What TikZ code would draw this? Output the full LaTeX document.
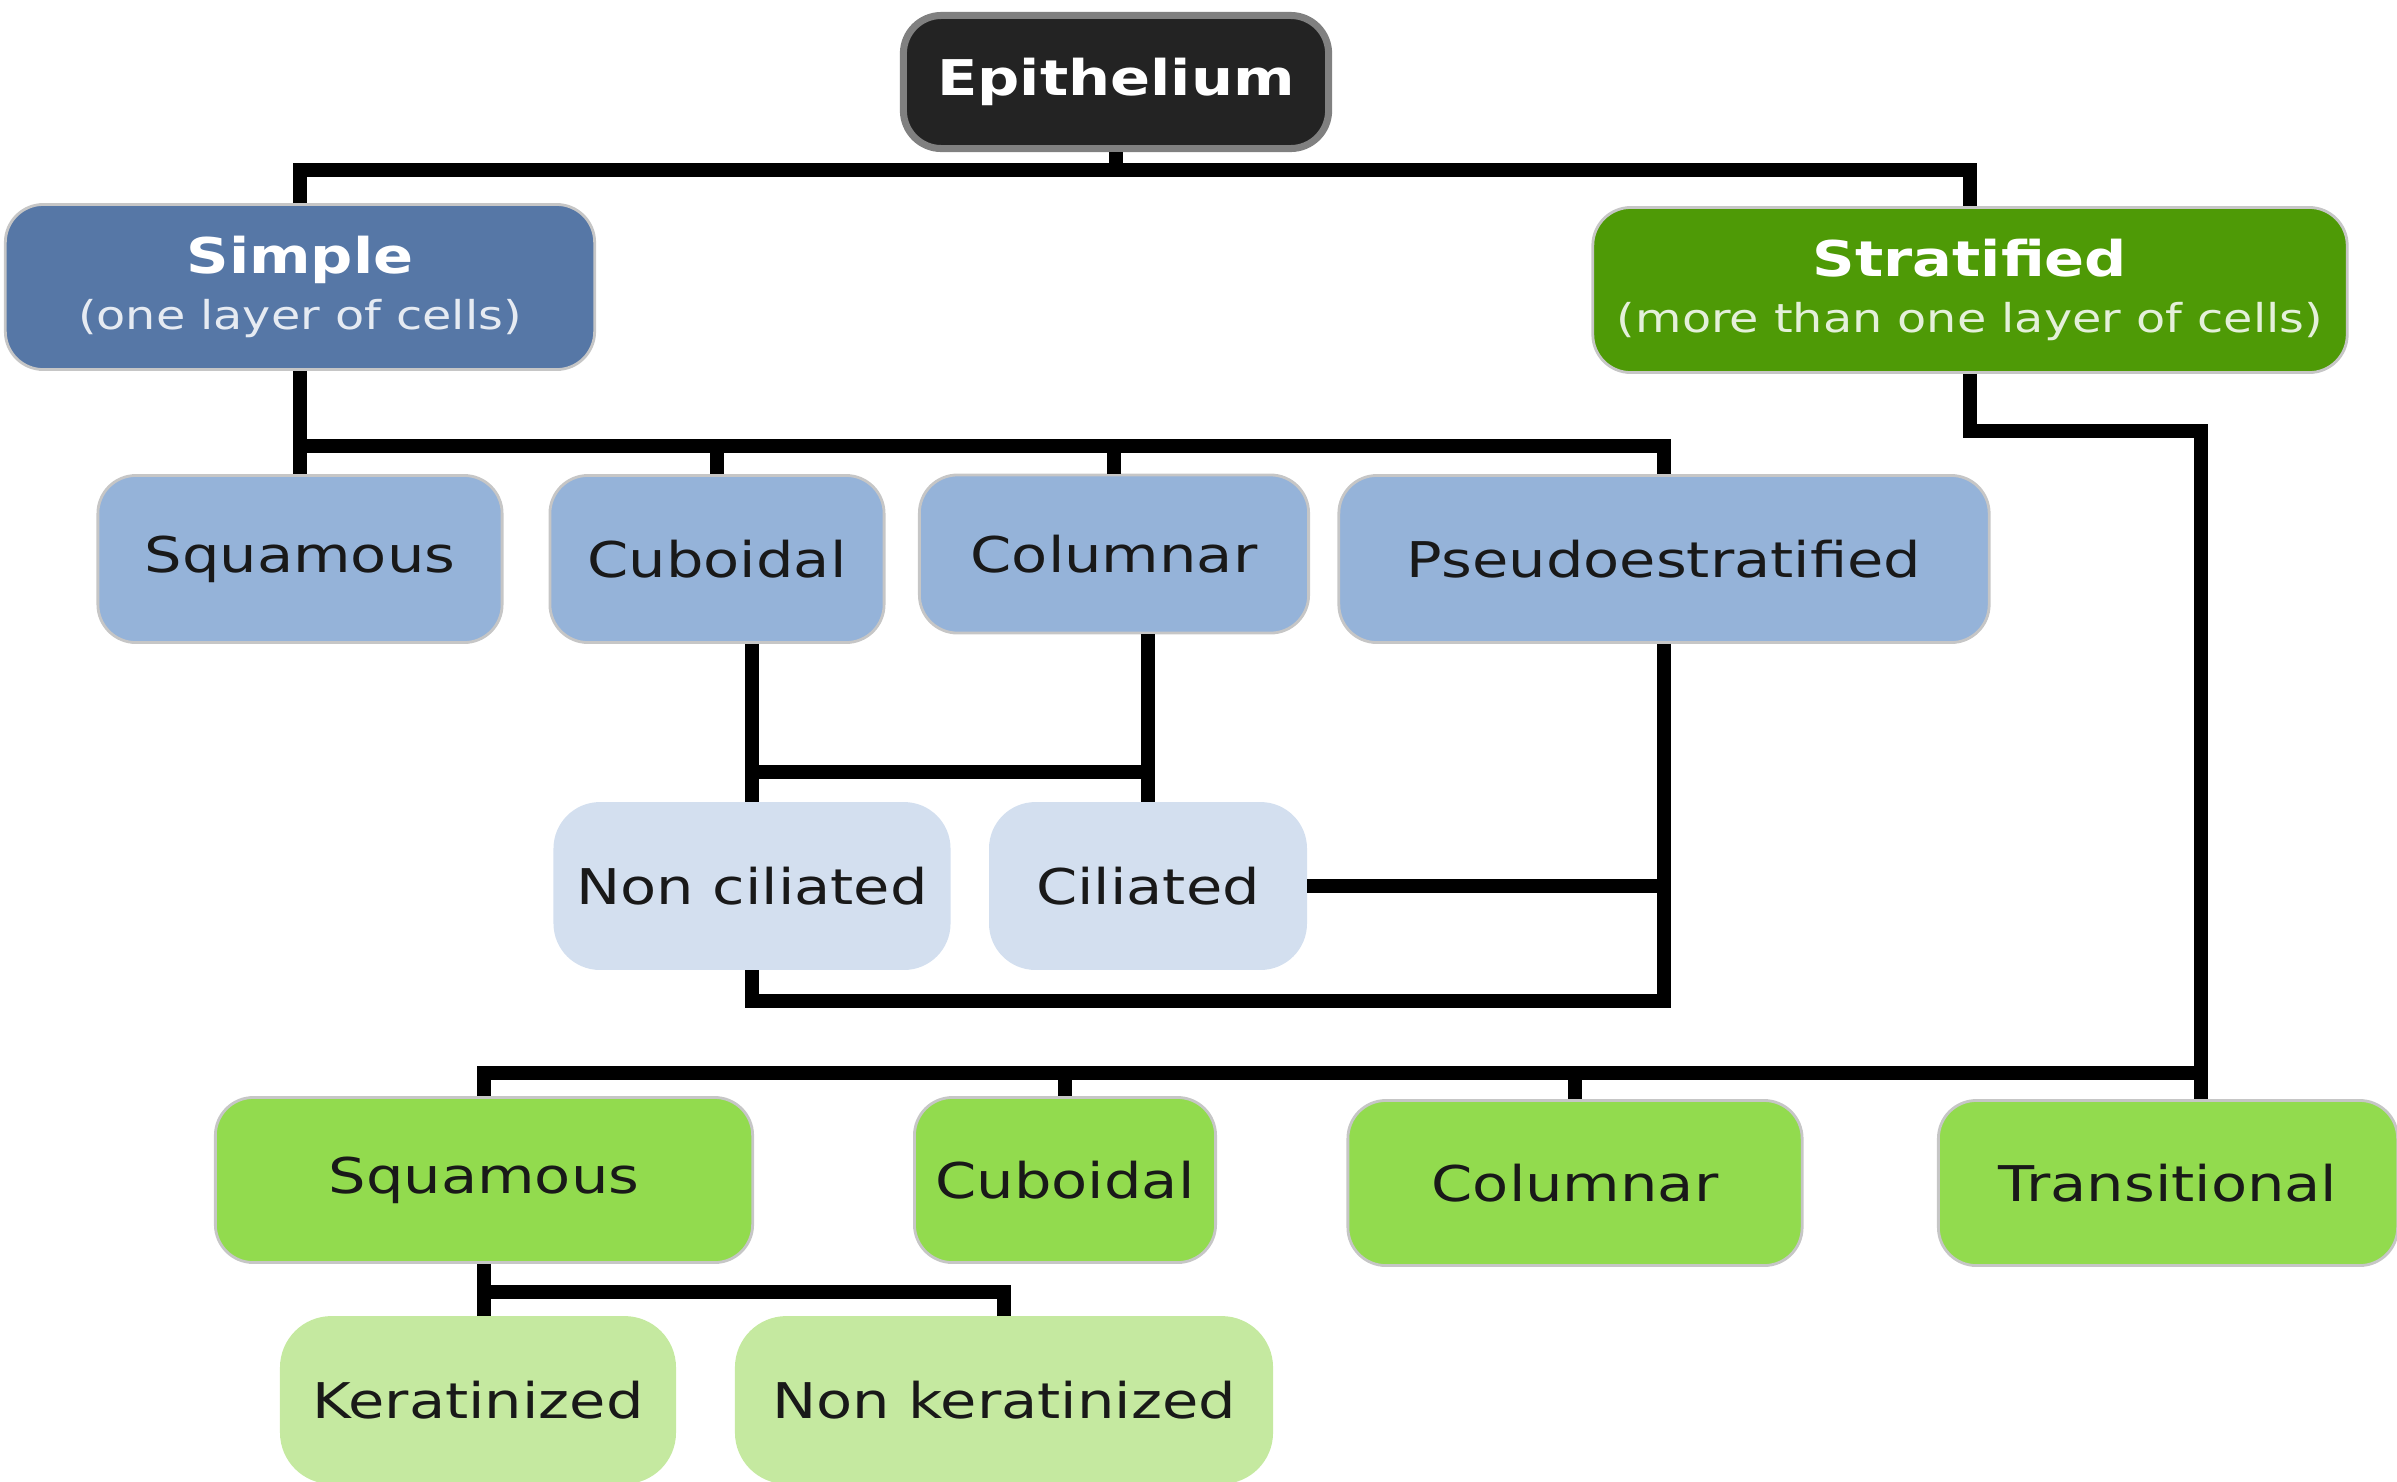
\documentclass[tikz,border=0pt]{standalone}
\usepackage{fontspec}
\setmainfont{DejaVu Sans}[FakeStretch=1.2]
\usepackage{tikz}
\usetikzlibrary{calc}

\definecolor{EpiBlack}{HTML}{232323}
\definecolor{SimpleBlue}{HTML}{5677A6}
\definecolor{CellBlue}{HTML}{95B3D9}
\definecolor{PaleBlue}{HTML}{D3DFEF}
\definecolor{StratGreen}{HTML}{4E9A06}
\definecolor{CellGreen}{HTML}{92DB4E}
\definecolor{PaleGreen}{HTML}{C5E9A0}

\begin{document}
\begin{tikzpicture}[x=0.01cm, y=-0.01cm,
        box/.style={rounded corners=0.38cm, draw=gray!45, line width=0.8pt, text=black!90,
            font=\fontsize{14}{17}\selectfont, inner sep=0pt, align=center},
        link/.style={line width=3.8pt, black}]
        \useasboundingbox (0,0) rectangle (2397,1481);
        \clip (0,0) rectangle (2397,1481);

        % top level
        \node[box, fill=EpiBlack, draw=gray, line width=2pt, text=white, minimum width=4.25cm, minimum height=1.33cm] (epi) at (1116,82) {\bfseries Epithelium};

        \node[box, fill=SimpleBlue, text=white, minimum width=5.89cm, minimum height=1.65cm] (simple) at (300,287)
            {{\bfseries Simple}\\[-1pt]{\fontsize{11.3}{13}\selectfont\color{white!85!SimpleBlue}(one layer of cells)}};
        \node[box, fill=StratGreen, text=white, minimum width=7.54cm, minimum height=1.65cm] (strat) at (1970,290)
            {{\bfseries Stratified}\\[-1pt]{\fontsize{11.3}{13}\selectfont\color{white!85!StratGreen}(more than one layer of cells)}};

        % simple
        \node[box, fill=CellBlue, minimum width=4.04cm, minimum height=1.67cm] (sq1) at (300,559) {Squamous};
        \node[box, fill=CellBlue, minimum width=3.34cm, minimum height=1.67cm] (cu1) at (717,559) {Cuboidal};
        \node[box, fill=CellBlue, minimum width=3.89cm, minimum height=1.58cm] (co1) at (1114,554) {Columnar};
        \node[box, fill=CellBlue, minimum width=6.50cm, minimum height=1.67cm] (ps1) at (1664,559) {Pseudoestratified};

        \node[box, fill=PaleBlue, draw=PaleBlue, rounded corners=0.45cm, minimum width=3.94cm, minimum height=1.65cm] (nc) at (752,886) {Non ciliated};
        \node[box, fill=PaleBlue, draw=PaleBlue, rounded corners=0.45cm, minimum width=3.15cm, minimum height=1.65cm] (ci) at (1148,886) {Ciliated};

        % stratified
        \node[box, fill=CellGreen, minimum width=5.37cm, minimum height=1.65cm] (sq2) at (484,1180) {Squamous};
        \node[box, fill=CellGreen, minimum width=3.01cm, minimum height=1.65cm] (cu2) at (1065,1180) {Cuboidal};
        \node[box, fill=CellGreen, minimum width=4.54cm, minimum height=1.65cm] (co2) at (1575,1183) {Columnar};
        \node[box, fill=CellGreen, minimum width=4.59cm, minimum height=1.65cm] (tr) at (2168,1183) {Transitional};

        \node[box, fill=PaleGreen, draw=PaleGreen, rounded corners=0.5cm, minimum width=3.93cm, minimum height=1.65cm] (ke) at (478,1400) {Keratinized};
        \node[box, fill=PaleGreen, draw=PaleGreen, rounded corners=0.5cm, minimum width=5.35cm, minimum height=1.65cm] (nk) at (1004,1400) {Non keratinized};

        \coordinate (b1) at (0,170);
        \coordinate (b2) at (0,446);
        \coordinate (m1) at (0,772);
        \coordinate (m2) at (0,1001);
        \coordinate (m3) at (2201,431);
        \coordinate (b3) at (0,1073);
        \coordinate (m4) at (0,1292);

        \draw[link] (epi.south) -- (epi.south |- b1);
        \draw[link] (simple.north) |- (b1 -| epi.south) -| (strat.north);

        \draw[link] (simple.south) -- (sq1.north);
        \draw[link] (simple.south |- b2) -| (ps1.north);
        \foreach \n in {cu1,co1}
            \draw[link] (\n.north |- b2) -- (\n.north);

        \draw[link] (cu1.south -| nc.north) -- (nc.north);
        \draw[link] (co1.south -| ci.north) -- (ci.north);
        \draw[link] (nc.north |- m1) -- (ci.north |- m1);
        \draw[link] (ps1.south) -- (ps1.south |- m2) -| (nc.south);
        \draw[link] (ci.east) -- (ci.east -| ps1.south);

        \draw[link] (strat.south) |- (m3) -- (m3 |- tr.north);
        \draw[link] (m3 |- b3) -| (sq2.north);
        \foreach \n in {cu2,co2}
            \draw[link] (\n.north |- b3) -- (\n.north);

        \draw[link] (sq2.south) -- (sq2.south |- ke.north);
        \draw[link] (sq2.south |- m4) -| (nk.north);
    \end{tikzpicture}
\end{document}
